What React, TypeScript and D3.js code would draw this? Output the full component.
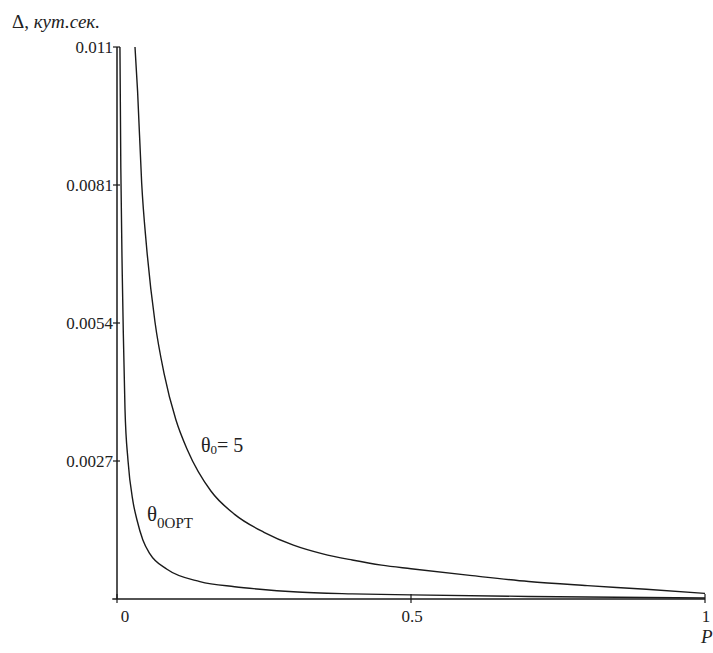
import React from "react";
import * as d3 from "d3";

// P values and Δ values
const theta5P = [0.0306, 0.035, 0.042, 0.05, 0.0646, 0.08, 0.1, 0.12, 0.16, 0.2, 0.25, 0.3, 0.35, 0.4, 0.45, 0.5, 0.6, 0.7, 0.8, 0.9, 1.0];
const theta5D = [0.01076, 0.0099, 0.0081, 0.0069, 0.0054, 0.0044, 0.0035, 0.0029, 0.0021, 0.00165, 0.0013, 0.00105, 0.00088, 0.00076, 0.00066, 0.00059, 0.00046, 0.00034, 0.00026, 0.00019, 0.00011];

const thetaOptP = [0.005, 0.0065, 0.009, 0.0107, 0.0136, 0.0187, 0.0272, 0.034, 0.044, 0.056, 0.085, 0.141, 0.2, 0.243, 0.3, 0.4, 0.5, 0.7, 1.0];
const thetaOptD = [0.01076, 0.0084, 0.0063, 0.0052, 0.0037, 0.0027, 0.0019, 0.00154, 0.00115, 0.00088, 0.00058, 0.00034, 0.00024, 0.00019, 0.00014, 0.0001, 0.00008, 0.00005, 0.00002];

const yMax = 0.01076;
const yTickValues = [yMax / 4, yMax / 2, (3 * yMax) / 4, yMax];
const yTickLabels = ["0.0027", "0.0054", "0.0081", "0.011"];
const xTickValues = [0, 0.5, 1];
const xTickLabels = ["0", "0.5", "1"];

export default function App() {
  const W = 713;
  const H = 653;
  const x = d3.scaleLinear().domain([0, 1]).range([117, 705]);
  const y = d3.scaleLinear().domain([0, yMax]).range([599, 47]);

  const line = d3
    .line<[number, number]>()
    .x((d) => x(d[0]))
    .y((d) => y(d[1]))
    .curve(d3.curveMonotoneX);

  const s5 = theta5P.map((p, i) => [p, theta5D[i]] as [number, number]);
  const sOpt = thetaOptP.map((p, i) => [p, thetaOptD[i]] as [number, number]);

  const serif = "'Liberation Serif', 'Times New Roman', serif";
  const stroke = "#1a1a1a";

  return (
    <svg
      width={W}
      height={H}
      style={{ position: "absolute", left: 0, top: 0, background: "#fff" }}
    >
      <rect x={0} y={0} width={W} height={H} fill="#fff" />
      <defs>
        <clipPath id="plotclip">
          <rect x={x(-0.02)} y={y(yMax)} width={x(1.02) - x(-0.02)} height={y(0) - y(yMax) + 2} />
        </clipPath>
      </defs>

      {/* axes */}
      <line x1={x(0)} x2={x(0)} y1={y(0)} y2={y(yMax)} stroke={stroke} strokeWidth={1.5} />
      <line x1={x(-0.008)} x2={x(1)} y1={y(0)} y2={y(0)} stroke={stroke} strokeWidth={1.5} />

      {yTickValues.map((v, i) => (
        <g key={"yt" + i}>
          <line x1={x(0) - 4} x2={x(0) + 3} y1={y(v)} y2={y(v)} stroke={stroke} strokeWidth={1.2} />
          <text
            x={x(0) - 4}
            y={y(v)}
            dy="0.35em"
            textAnchor="end"
            fontFamily={serif}
            fontSize={17}
            fill="#222"
          >
            {yTickLabels[i]}
          </text>
        </g>
      ))}

      {xTickValues.map((v, i) => (
        <g key={"xt" + i}>
          <line x1={x(v)} x2={x(v)} y1={y(0) - 5} y2={y(0) + 4} stroke={stroke} strokeWidth={1.2} />
          <text
            x={i === 0 ? x(v) + 8 : x(v) + 1}
            y={622}
            textAnchor="middle"
            fontFamily={serif}
            fontSize={17}
            fill="#222"
          >
            {xTickLabels[i]}
          </text>
        </g>
      ))}

      {/* curves */}
      <g clipPath="url(#plotclip)">
        <path d={line(s5) || ""} fill="none" stroke={stroke} strokeWidth={1.4} />
        <path d={line(sOpt) || ""} fill="none" stroke={stroke} strokeWidth={1.4} />
      </g>

      {/* axis titles */}
      <text x={12} y={28} fontFamily={serif} fontSize={19} fill="#222">
        <tspan>Δ, </tspan>
        <tspan fontStyle="italic">кут.сек.</tspan>
      </text>
      <text x={701} y={643} fontFamily={serif} fontSize={19} fontStyle="italic" fill="#222">
        P
      </text>

      {/* curve labels */}
      <text x={201} y={452} fontFamily={serif} fontSize={20} fill="#222">
        <tspan>θ</tspan>
        <tspan fontSize={13} dy={2}>0</tspan>
        <tspan dy={-2}>= 5</tspan>
      </text>
      <text x={147} y={521} fontFamily={serif} fontSize={21} fill="#222">
        <tspan>θ</tspan>
        <tspan fontSize={15} dy={7}>0OPT</tspan>
      </text>
    </svg>
  );
}
